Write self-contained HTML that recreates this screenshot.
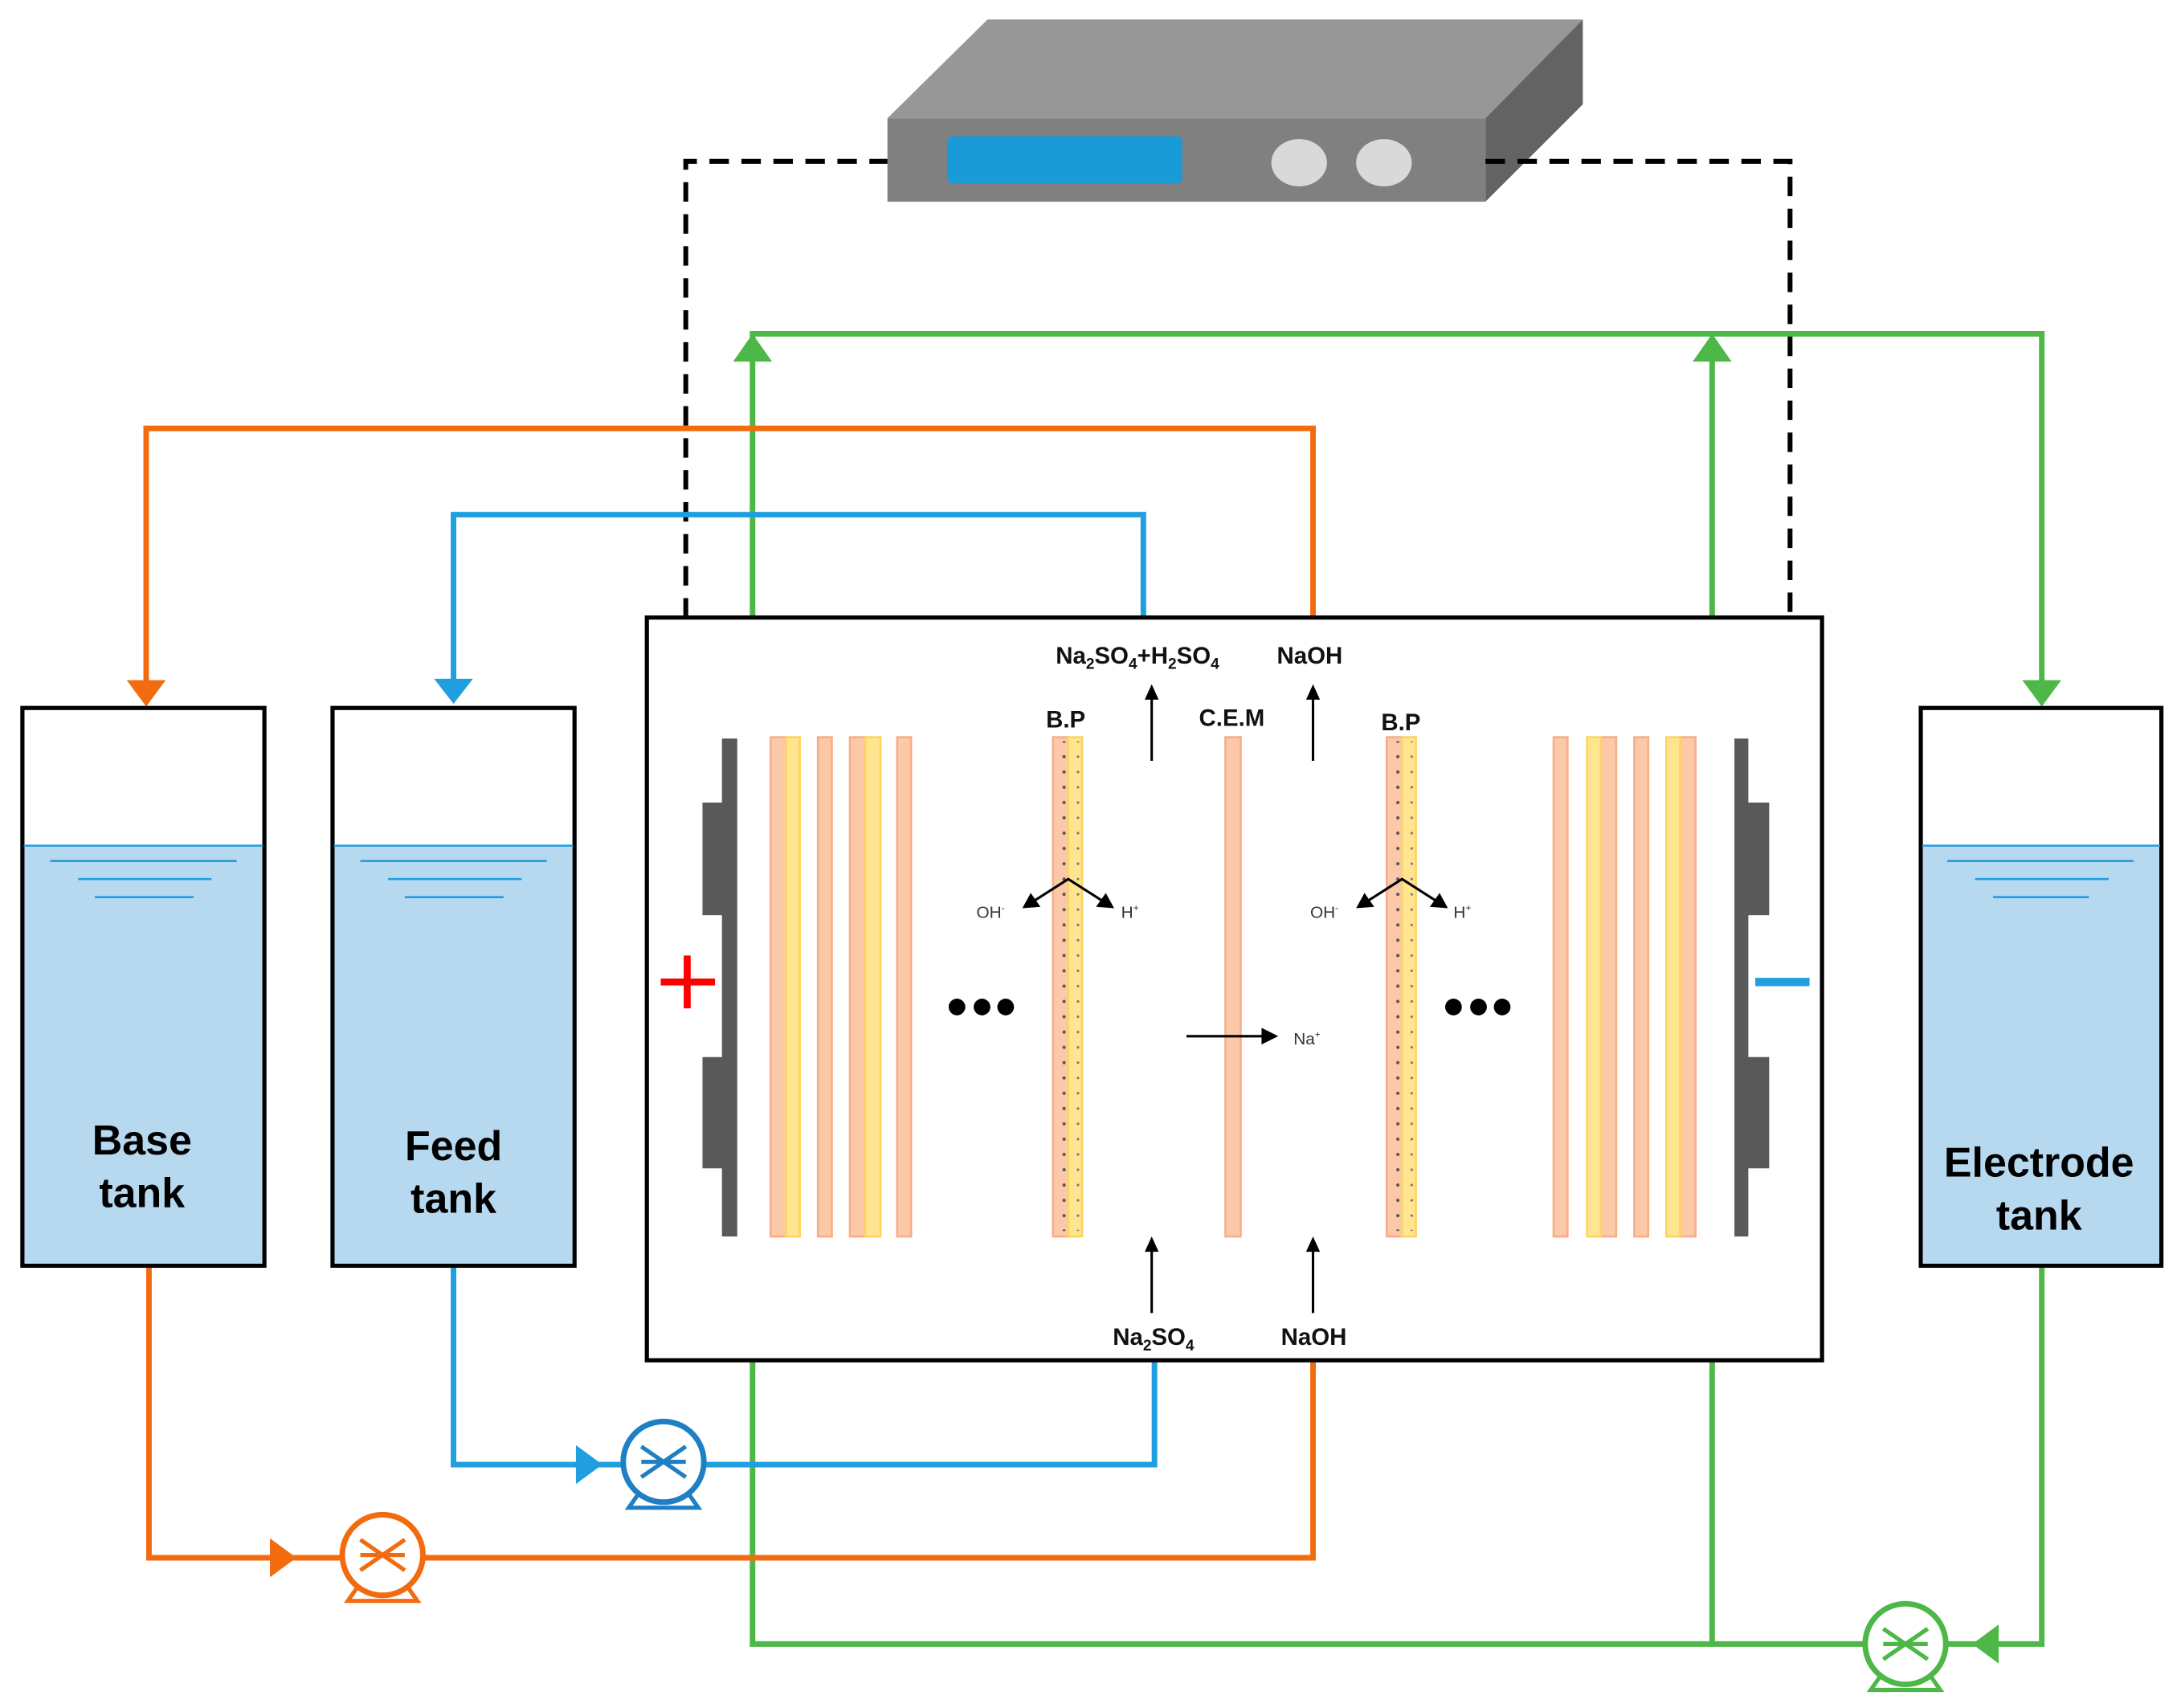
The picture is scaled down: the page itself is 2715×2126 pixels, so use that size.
<!DOCTYPE html>
<html><head><meta charset="utf-8"><style>
html,body{margin:0;padding:0;background:#fff;}
svg{display:block;}
text{font-family:"Liberation Sans",sans-serif;}
</style></head><body>
<svg width="2715" height="2126" viewBox="0 0 1568 1228" xmlns="http://www.w3.org/2000/svg">
<defs>
<g id="pump">
  <circle cx="0" cy="0" r="29" fill="#fff" stroke-width="4"/>
  <line x1="-16" y1="-11" x2="16" y2="11" stroke-width="3"/>
  <line x1="-16" y1="11" x2="16" y2="-11" stroke-width="3"/>
  <line x1="-16" y1="0" x2="16" y2="0" stroke-width="3"/>
  <polyline points="-18,23 -25,33 25,33 18,23" fill="none" stroke-width="3"/>
</g>
<pattern id="dotsA" width="10" height="11" patternUnits="userSpaceOnUse"><circle cx="5" cy="5" r="1.2" fill="#555"/></pattern>
<pattern id="dotsB" width="10" height="11" patternUnits="userSpaceOnUse"><circle cx="5" cy="5" r="0.9" fill="#777"/></pattern>
</defs>

<!-- power supply -->
<polygon points="638,85 710,14 1138,14 1068,85" fill="#979797"/>
<polygon points="1068,85 1138,14 1138,75 1068,145" fill="#636363"/>
<rect x="638" y="85" width="430" height="60" fill="#808080"/>
<rect x="681" y="98" width="169" height="34" rx="4" fill="#1a9bd7"/>
<ellipse cx="934" cy="117" rx="20" ry="17" fill="#d9d9d9"/>
<ellipse cx="995" cy="117" rx="20" ry="17" fill="#d9d9d9"/>

<!-- dashed wires -->
<polyline points="493,444 493,116 638,116" fill="none" stroke="#000" stroke-width="3.5" stroke-dasharray="14,9"/>
<polyline points="1068,116 1287,116 1287,444" fill="none" stroke="#000" stroke-width="3.5" stroke-dasharray="14,9"/>

<!-- green lines -->
<g stroke="#4db848" stroke-width="4" fill="none">
<polyline points="541,444 541,240 1468,240 1468,500"/>
<polyline points="1231,444 1231,245"/>
<polyline points="541,978 541,1182 1340,1182"/>
<polyline points="1231,978 1231,1182"/>
<polyline points="1400,1182 1468,1182 1468,910"/>
</g>
<g fill="#4db848">
<polygon points="541,240 527,260 555,260"/>
<polygon points="1231,240 1217,260 1245,260"/>
<polygon points="1468,508 1454,489 1482,489"/>
<polygon points="1418,1182 1437,1168 1437,1196"/>
</g>
<use href="#pump" x="1370" y="1182" stroke="#4db848"/>

<!-- orange lines -->
<g stroke="#f26b0f" stroke-width="4" fill="none">
<polyline points="944,444 944,308 105,308 105,495"/>
<polyline points="107,910 107,1120 246,1120"/>
<polyline points="304,1120 944,1120 944,978"/>
</g>
<g fill="#f26b0f">
<polygon points="105,508 91,489 119,489"/>
<polygon points="213,1120 194,1106 194,1134"/>
</g>
<use href="#pump" x="275" y="1118" stroke="#f26b0f"/>

<!-- blue lines -->
<g stroke="#1f9ee0" stroke-width="4" fill="none">
<polyline points="822,444 822,370 326,370 326,492"/>
<polyline points="326,910 326,1053 448,1053"/>
<polyline points="506,1053 830,1053 830,978"/>
</g>
<g fill="#1f9ee0">
<polygon points="326,506 312,488 340,488"/>
<polygon points="433,1053 414,1039 414,1067"/>
</g>
<use href="#pump" x="477" y="1051" stroke="#1f7fc4"/>

<!-- tanks -->
<g stroke="#000" stroke-width="3">
<rect x="16" y="509" width="174" height="401" fill="#fff"/>
<rect x="239" y="509" width="174" height="401" fill="#fff"/>
<rect x="1381" y="509" width="173" height="401" fill="#fff"/>
</g>
<g fill="#b6d9f0">
<rect x="17.5" y="608" width="171" height="300.5"/>
<rect x="240.5" y="608" width="171" height="300.5"/>
<rect x="1382.5" y="608" width="170" height="300.5"/>
</g>
<g stroke="#1f9ee0" stroke-width="1.5">
<line x1="17" y1="608" x2="189" y2="608"/><line x1="36" y1="619" x2="170" y2="619"/><line x1="56" y1="632" x2="152" y2="632"/><line x1="68" y1="645" x2="139" y2="645"/>
<line x1="240" y1="608" x2="412" y2="608"/><line x1="259" y1="619" x2="393" y2="619"/><line x1="279" y1="632" x2="375" y2="632"/><line x1="291" y1="645" x2="362" y2="645"/>
<line x1="1382" y1="608" x2="1553" y2="608"/><line x1="1400" y1="619" x2="1534" y2="619"/><line x1="1420" y1="632" x2="1516" y2="632"/><line x1="1433" y1="645" x2="1502" y2="645"/>
</g>
<g font-weight="bold" font-size="30" text-anchor="middle" fill="#000">
<text x="102" y="830">Base</text><text x="102" y="868">tank</text>
<text x="326" y="834">Feed</text><text x="326" y="872">tank</text>
<text x="1466" y="846">Electrode</text><text x="1466" y="884">tank</text>
</g>

<!-- stack box -->
<rect x="465" y="444" width="845" height="534" fill="#fff" stroke="#000" stroke-width="3"/>

<!-- electrodes -->
<g fill="#595959">
<rect x="519" y="531" width="11" height="358"/>
<rect x="505" y="577" width="16" height="81"/>
<rect x="505" y="760" width="16" height="80"/>
<rect x="1247" y="531" width="10" height="358"/>
<rect x="1255" y="577" width="17" height="81"/>
<rect x="1255" y="760" width="17" height="80"/>
</g>
<g stroke="#f00" stroke-width="5"><line x1="475" y1="706" x2="514" y2="706"/><line x1="494" y1="687" x2="494" y2="725"/></g>
<line x1="1262" y1="706" x2="1301" y2="706" stroke="#1f9ee0" stroke-width="6"/>

<!-- membranes -->
<g stroke-width="1.5">
<g fill="#fcc9a8" stroke="#f8ad88">
<rect x="554" y="530" width="11" height="359"/>
<rect x="588" y="530" width="10" height="359"/>
<rect x="611" y="530" width="11" height="359"/>
<rect x="645" y="530" width="10" height="359"/>
<rect x="757" y="530" width="11" height="359"/>
<rect x="881" y="530" width="11" height="359"/>
<rect x="997" y="530" width="11" height="359"/>
<rect x="1117" y="530" width="10" height="359"/>
<rect x="1151" y="530" width="11" height="359"/>
<rect x="1175" y="530" width="10" height="359"/>
<rect x="1208" y="530" width="11" height="359"/>
</g>
<g fill="#ffe590" stroke="#fdd460">
<rect x="565" y="530" width="10" height="359"/>
<rect x="622" y="530" width="11" height="359"/>
<rect x="768" y="530" width="10" height="359"/>
<rect x="1008" y="530" width="10" height="359"/>
<rect x="1141" y="530" width="10" height="359"/>
<rect x="1198" y="530" width="10" height="359"/>
</g>
</g>
<rect x="758" y="533" width="10" height="352" fill="url(#dotsA)"/>
<rect x="768" y="533" width="10" height="352" fill="url(#dotsB)"/>
<rect x="998" y="533" width="10" height="352" fill="url(#dotsA)"/>
<rect x="1008" y="533" width="10" height="352" fill="url(#dotsB)"/>

<!-- dots ellipsis -->
<g fill="#000">
<circle cx="688" cy="724" r="6"/><circle cx="706" cy="724" r="6"/><circle cx="723" cy="724" r="6"/>
<circle cx="1045" cy="724" r="6"/><circle cx="1063" cy="724" r="6"/><circle cx="1080" cy="724" r="6"/>
</g>

<!-- arrows -->
<g stroke="#000" stroke-width="1.8" fill="none">
<line x1="828" y1="547" x2="828" y2="502"/>
<line x1="944" y1="547" x2="944" y2="502"/>
<line x1="828" y1="944" x2="828" y2="899"/>
<line x1="944" y1="944" x2="944" y2="899"/>
<line x1="853" y1="745" x2="908" y2="745"/>
<polyline points="743,648 768,632 793,648"/>
<polyline points="983,648 1008,632 1033,648"/>
</g>
<g fill="#000">
<polygon points="828,492 823,503 833,503"/>
<polygon points="944,492 939,503 949,503"/>
<polygon points="828,889 823,900 833,900"/>
<polygon points="944,889 939,900 949,900"/>
<polygon points="919,745 907,739 907,751"/>
<polygon points="735,653 741,642 748,652"/>
<polygon points="801,653 788,652 795,642"/>
<polygon points="975,653 981,642 988,652"/>
<polygon points="1041,653 1028,652 1035,642"/>
</g>

<!-- labels -->
<g font-size="17" font-weight="bold" fill="#111">
<text x="759" y="477">Na<tspan font-size="11" dy="4">2</tspan><tspan dy="-4">SO</tspan><tspan font-size="11" dy="4">4</tspan><tspan dy="-4">+H</tspan><tspan font-size="11" dy="4">2</tspan><tspan dy="-4">SO</tspan><tspan font-size="11" dy="4">4</tspan></text>
<text x="918" y="477">NaOH</text>
<text x="752" y="523">B.P</text>
<text x="862" y="522">C.E.M</text>
<text x="993" y="525">B.P</text>
<text x="800" y="967">Na<tspan font-size="11" dy="4">2</tspan><tspan dy="-4">SO</tspan><tspan font-size="11" dy="4">4</tspan></text>
<text x="921" y="967">NaOH</text>
</g>
<g font-size="12" fill="#333">
<text x="702" y="660">OH<tspan font-size="7" dy="-5">-</tspan></text>
<text x="806" y="660">H<tspan font-size="7" dy="-5">+</tspan></text>
<text x="942" y="660">OH<tspan font-size="7" dy="-5">-</tspan></text>
<text x="1045" y="660">H<tspan font-size="7" dy="-5">+</tspan></text>
<text x="930" y="751">Na<tspan font-size="7" dy="-5">+</tspan></text>
</g>
</svg>
</body></html>
